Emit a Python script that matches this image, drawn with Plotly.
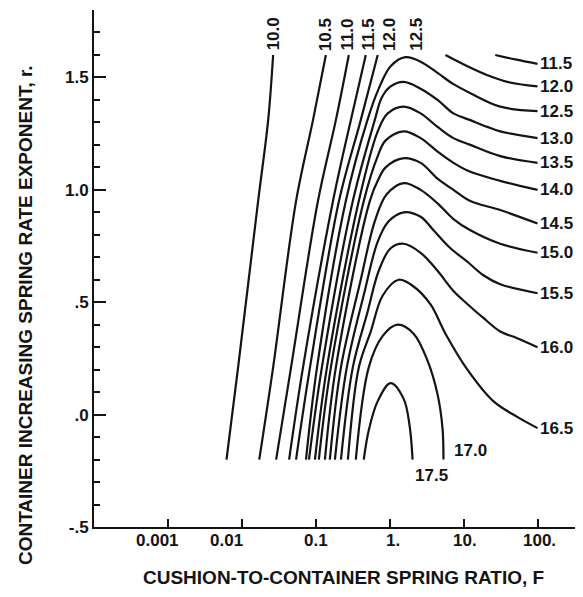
import math
import plotly.graph_objects as go

# ---- data (F = cushion-to-container spring ratio, r = exponent) ----
F_10_0 = [0.0265, 0.0227, 0.0166, 0.0089, 0.0062]
R_10_0 = [1.60, 1.31, 0.95, 0.21, -0.20]
F_10_5 = [0.137, 0.0917, 0.0541, 0.0265, 0.0172]
R_10_5 = [1.60, 1.31, 0.95, 0.21, -0.20]
F_11_0 = [0.280, 0.187, 0.107, 0.0463, 0.0291]
R_11_0 = [1.60, 1.31, 0.95, 0.21, -0.20]
F_11_5 = [0.475, 0.298, 0.171, 0.0672, 0.0436]
R_11_5 = [1.60, 1.31, 0.95, 0.21, -0.20]
F_11_5_RIGHT = [26.8, 50.0, 100.0]
R_11_5_RIGHT = [1.60, 1.58, 1.56]
F_12_0 = [0.689, 0.406, 0.206, 0.0835, 0.0541]
R_12_0 = [1.60, 1.31, 0.95, 0.21, -0.20]
F_12_0_RIGHT = [5.68, 11.25, 20.9, 38.9, 100.0]
R_12_0_RIGHT = [1.60, 1.55, 1.51, 1.48, 1.46]
F_12_5 = [0.0738, 0.104, 0.255, 0.500, 0.711, 1.03, 1.64, 2.62, 4.44, 7.29, 12.35, 31.3, 100.0]
R_12_5 = [-0.20, 0.21, 0.95, 1.31, 1.45, 1.55, 1.59, 1.57, 1.52, 1.47, 1.43, 1.37, 1.35]
F_13_0 = [0.081, 0.121, 0.317, 0.628, 0.780, 1.03, 1.545, 2.62, 4.44, 7.29, 12.35, 20.9, 31.3, 100.0]
R_13_0 = [-0.20, 0.21, 0.95, 1.31, 1.41, 1.46, 1.48, 1.45, 1.40, 1.34, 1.31, 1.28, 1.26, 1.23]
F_13_5 = [0.0975, 0.1416, 0.382, 0.689, 0.940, 1.545, 2.62, 4.44, 7.29, 12.35, 31.3, 100.0]
R_13_5 = [-0.20, 0.21, 0.95, 1.26, 1.34, 1.37, 1.34, 1.28, 1.23, 1.20, 1.15, 1.12]
F_14_0 = [0.110, 0.160, 0.446, 0.689, 0.883, 1.545, 2.62, 4.44, 7.29, 12.35, 31.3, 100.0]
R_14_0 = [-0.20, 0.21, 0.95, 1.15, 1.22, 1.26, 1.23, 1.17, 1.12, 1.08, 1.04, 1.00]
F_14_5 = [0.133, 0.187, 0.538, 0.711, 0.883, 1.497, 2.62, 4.44, 7.29, 12.35, 31.3, 100.0]
R_14_5 = [-0.20, 0.21, 0.95, 1.05, 1.10, 1.14, 1.12, 1.05, 1.00, 0.95, 0.91, 0.85]
F_15_0 = [0.155, 0.219, 0.406, 0.628, 0.911, 1.545, 2.62, 4.44, 7.29, 12.35, 31.3, 100.0]
R_15_0 = [-0.20, 0.21, 0.60, 0.86, 0.98, 1.03, 1.00, 0.94, 0.87, 0.82, 0.76, 0.72]
F_15_5 = [0.1815, 0.263, 0.460, 0.689, 0.969, 1.545, 2.62, 3.92, 6.64, 11.25, 18.5, 31.3, 100.0]
R_15_5 = [-0.20, 0.21, 0.55, 0.77, 0.86, 0.90, 0.88, 0.82, 0.74, 0.68, 0.62, 0.58, 0.54]
F_16_0 = [0.219, 0.317, 0.505, 0.711, 1.03, 1.545, 2.62, 4.44, 7.29, 12.35, 18.5, 31.3, 53.1, 100.0]
R_16_0 = [-0.20, 0.21, 0.46, 0.64, 0.74, 0.76, 0.72, 0.64, 0.55, 0.48, 0.43, 0.37, 0.34, 0.30]
F_16_5 = [0.272, 0.382, 0.555, 0.805, 1.32, 2.105, 3.57, 5.68, 11.25, 25.2, 53.1, 100.0]
R_16_5 = [-0.20, 0.21, 0.37, 0.53, 0.60, 0.57, 0.49, 0.36, 0.20, 0.06, -0.01, -0.06]
F_17_0 = [0.348, 0.521, 0.805, 1.28, 2.105, 3.25, 4.44, 5.18, 5.34]
R_17_0 = [-0.20, 0.21, 0.35, 0.40, 0.36, 0.24, 0.09, -0.06, -0.20]
F_17_5 = [0.446, 0.521, 0.689, 1.03, 1.545, 1.86, 2.04]
R_17_5 = [-0.20, -0.07, 0.06, 0.14, 0.07, -0.05, -0.20]

TOP_LABELS = ["10.0", "10.5", "11.0", "11.5", "12.0", "12.5"]
TOP_LABEL_F = [0.0265, 0.133, 0.272, 0.521, 1.0, 2.31]
TOP_LABEL_R = 1.61

RIGHT_LABELS = ["11.5", "12.0", "12.5", "13.0", "13.5", "14.0", "14.5", "15.0", "15.5", "16.0", "16.5"]
BOTTOM_LABELS = ["17.0", "17.5"]
BOTTOM_LABEL_F = [7.06, 2.04]
BOTTOM_LABEL_R = [-0.16, -0.27]

X_TICKS = [0.001, 0.01, 0.1, 1, 10, 100]
X_TICKTEXT = ["0.001", "0.01", "0.1", "1.", "10.", "100."]
X_TICKTEXT_SHIFT = [-10, -15, 0, 3, 1, 2]   # hand-lettered labels sit slightly off their ticks
Y_TICKS = [-0.5, 0.0, 0.5, 1.0, 1.5]
Y_TICKTEXT = ["-.5", ".0", ".5", "1.0", "1.5"]

curves = [
    (F_10_0, R_10_0), (F_10_5, R_10_5), (F_11_0, R_11_0), (F_11_5, R_11_5),
    (F_11_5_RIGHT, R_11_5_RIGHT), (F_12_0, R_12_0), (F_12_0_RIGHT, R_12_0_RIGHT),
    (F_12_5, R_12_5), (F_13_0, R_13_0), (F_13_5, R_13_5), (F_14_0, R_14_0),
    (F_14_5, R_14_5), (F_15_0, R_15_0), (F_15_5, R_15_5), (F_16_0, R_16_0),
    (F_16_5, R_16_5), (F_17_0, R_17_0), (F_17_5, R_17_5),
]
right_ends = [F_11_5_RIGHT, F_12_0_RIGHT, F_12_5, F_13_0, F_13_5, F_14_0, F_14_5,
              F_15_0, F_15_5, F_16_0, F_16_5]
right_ends_r = [R_11_5_RIGHT, R_12_0_RIGHT, R_12_5, R_13_0, R_13_5, R_14_0, R_14_5,
                R_15_0, R_15_5, R_16_0, R_16_5]

INK = "#141414"
FONT = "Liberation Sans, Arial, sans-serif"
LABEL_FONT = dict(size=17, color=INK, family=FONT, weight="bold")
TICK_FONT = dict(size=17, color=INK, family=FONT, weight="bold")
TITLE_FONT = dict(size=19, color=INK, family=FONT, weight="bold")

fig = go.Figure()
for fx, ry in curves:
    fig.add_trace(go.Scatter(
        x=fx, y=ry, mode="lines",
        line=dict(color=INK, width=2.2, shape="spline", smoothing=1.0),
        showlegend=False, hoverinfo="skip"))

# annotations on a log axis take log10 positions
ann = []
for t, fx in zip(TOP_LABELS, TOP_LABEL_F):
    ann.append(dict(x=math.log10(fx), y=TOP_LABEL_R, xref="x", yref="y", text=t,
                    textangle=-90, showarrow=False, xanchor="center", yanchor="bottom",
                    font=LABEL_FONT))
for t, fx, ry in zip(RIGHT_LABELS, right_ends, right_ends_r):
    ann.append(dict(x=math.log10(fx[-1]), y=ry[-1], xref="x", yref="y", text=t,
                    showarrow=False, xanchor="left", yanchor="middle", xshift=0,
                    font=LABEL_FONT))
for t, fx, ry in zip(BOTTOM_LABELS, BOTTOM_LABEL_F, BOTTOM_LABEL_R):
    ann.append(dict(x=math.log10(fx), y=ry, xref="x", yref="y", text=t,
                    showarrow=False, xanchor="left", yanchor="middle",
                    font=LABEL_FONT))
# x tick labels
for v, t, s in zip(X_TICKS, X_TICKTEXT, X_TICKTEXT_SHIFT):
    ann.append(dict(x=math.log10(v), y=-0.026, xref="x", yref="paper", text=t,
                    showarrow=False, xanchor="center", yanchor="middle", xshift=s,
                    font=TICK_FONT))
ann.append(dict(x=0.511, y=-0.098, xref="paper", yref="paper",
                text="CUSHION-TO-CONTAINER SPRING RATIO, F", showarrow=False,
                xanchor="center", yanchor="middle", font=TITLE_FONT))
ann.append(dict(x=-0.141, y=0.41, xref="paper", yref="paper",
                text="CONTAINER INCREASING SPRING RATE EXPONENT, r.", showarrow=False,
                textangle=-90, xanchor="center", yanchor="middle", font=TITLE_FONT))

# page body has an 8px margin, so the figure's margins are offset to put the
# plot area where the reference has it
fig.update_layout(
    width=583, height=597,
    margin=dict(l=86, r=8, t=2, b=78, autoexpand=False),
    paper_bgcolor="white", plot_bgcolor="white",
    annotations=ann,
    xaxis=dict(type="log", range=[-4, 2.615], tickmode="array",
               tickvals=X_TICKS, showticklabels=False,
               ticks="inside", ticklen=8, tickwidth=2, tickcolor=INK,
               showline=True, linewidth=2, linecolor=INK,
               showgrid=False, zeroline=False, automargin=False),
    yaxis=dict(range=[-0.5, 1.8], tickmode="array",
               tickvals=Y_TICKS, ticktext=Y_TICKTEXT,
               ticks="inside", ticklen=12, tickwidth=2, tickcolor=INK,
               minor=dict(tick0=0, dtick=0.1, ticks="inside", ticklen=6,
                          tickwidth=2, tickcolor=INK, showgrid=False),
               showline=True, linewidth=2, linecolor=INK,
               showgrid=False, zeroline=False, automargin=False,
               tickfont=TICK_FONT),
)

fig.write_html("out.html")
